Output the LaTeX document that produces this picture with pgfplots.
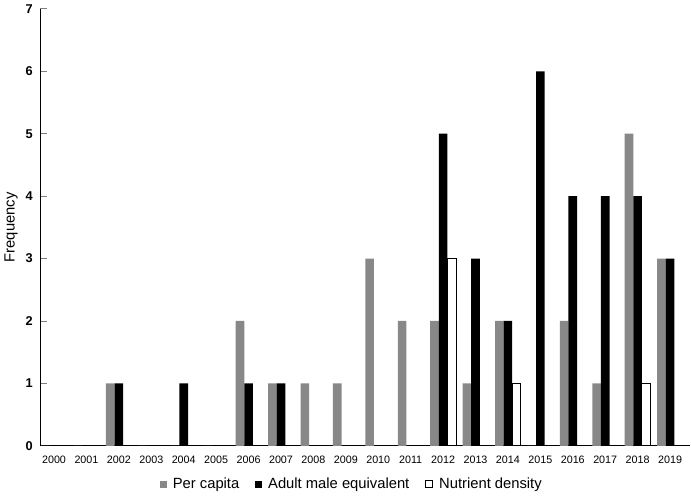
\documentclass[border=0pt]{standalone}
\usepackage{fontspec}
\setmainfont{Liberation Sans}
\usepackage{pgfplots}
\pgfplotsset{compat=1.18}
\definecolor{PerCap}{RGB}{136,136,136}

\begin{document}
\begin{tikzpicture}
\begin{axis}[
  scale only axis,
  width=484.5pt,height=325.5pt,
  ybar=0pt,bar width=6.4pt,
  xmin=-0.43,xmax=19.63,ymin=0,ymax=7,
  axis x line*=bottom,axis y line*=left,
  axis line style={line width=0.8pt},
  xtick={0,...,19},
  xticklabels={2000,2001,2002,2003,2004,2005,2006,2007,2008,2009,2010,2011,2012,2013,2014,2015,2016,2017,2018,2019},
  x tick label style={font=\fontsize{8}{9}\selectfont,yshift=-4pt},
  major x tick style={draw=none},
  ytick={0,...,7},
  y tick label style={font=\fontsize{9.5}{10}\selectfont\bfseries,xshift=-2pt},
  yticklabel={\pgfmathprintnumber[assume math mode=true]{\tick}},
  ytick style={line width=0.6pt},
  tick align=inside,
  major tick length=5pt,
  ylabel={Frequency},
  ylabel style={font=\fontsize{11}{12}\selectfont,yshift=-1pt},
  legend style={draw=none,font=\fontsize{11}{13}\selectfont,
    at={(0.48,-0.088)},anchor=center,legend columns=-1,
    /tikz/every odd column/.append style={column sep=2.5pt},
    /tikz/every even column/.append style={column sep=10pt}},
  legend image code/.code={\path[#1] (0pt,-2.5pt) rectangle (5pt,2.5pt);},
]
\addplot[fill=PerCap,draw=none] coordinates {
  (0,0)(1,0)(2,1)(3,0)(4,0)(5,0)(6,2)(7,1)(8,1)(9,1)
  (10,3)(11,2)(12,2)(13,1)(14,2)(15,0)(16,2)(17,1)(18,5)(19,3)};
\addlegendentry{Per capita}
\addplot[fill=black,draw=none] coordinates {
  (0,0)(1,0)(2,1)(3,0)(4,1)(5,0)(6,1)(7,1)(8,0)(9,0)
  (10,0)(11,0)(12,5)(13,3)(14,2)(15,6)(16,4)(17,4)(18,4)(19,3)};
\addlegendentry{Adult male equivalent}
\addplot[fill=white,draw=black,line width=0.7pt] coordinates {
  (0,0)(1,0)(2,0)(3,0)(4,0)(5,0)(6,0)(7,0)(8,0)(9,0)
  (10,0)(11,0)(12,3)(13,0)(14,1)(15,0)(16,0)(17,0)(18,1)(19,0)};
\addlegendentry{Nutrient density}
\end{axis}
\end{tikzpicture}
\end{document}
